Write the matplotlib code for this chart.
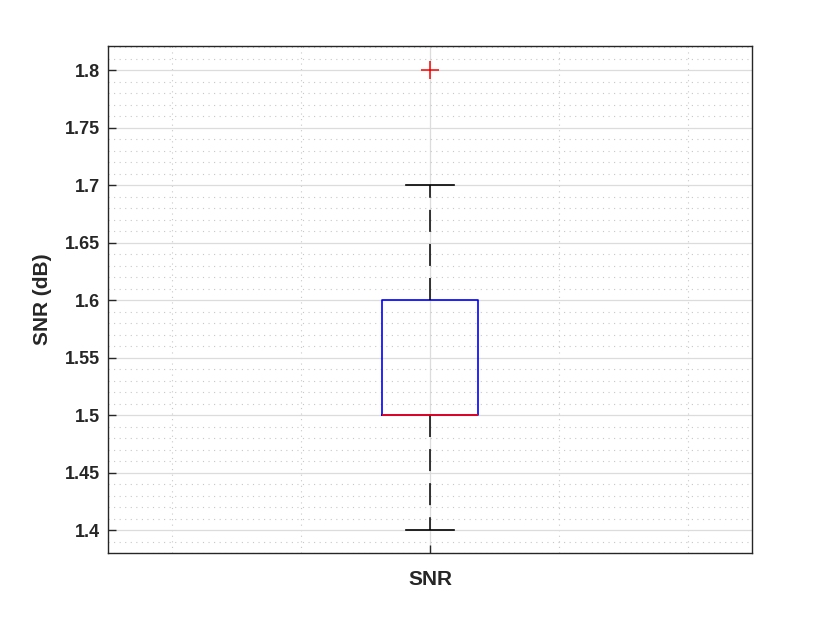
import numpy as np
import matplotlib.pyplot as plt
from matplotlib.ticker import MultipleLocator

plt.rcParams['font.family'] = ['Liberation Sans', 'DejaVu Sans']
plt.rcParams['font.weight'] = 'bold'

# box statistics
label = 'SNR'
q1, med, q3 = 1.5, 1.5, 1.6
whislo, whishi = 1.4, 1.7
outliers = [1.8]
yticks = [1.4, 1.45, 1.5, 1.55, 1.6, 1.65, 1.7, 1.75, 1.8]
ytick_labels = ['1.4', '1.45', '1.5', '1.55', '1.6', '1.65', '1.7', '1.75', '1.8']

fig = plt.figure(figsize=(8.3, 6.23), dpi=100)
ax = fig.add_axes([0.130, 0.112, 0.776, 0.814])

stats = [dict(label=label, q1=q1, med=med, q3=q3,
              whislo=whislo, whishi=whishi, fliers=outliers)]
ax.bxp(stats, positions=[1], widths=0.149, showfliers=True,
       boxprops=dict(color='#0000ff', lw=1.2),
       medianprops=dict(color='#ff0000', lw=1.2),
       whiskerprops=dict(color='black', lw=1.1, ls=(0, (14.4, 7.9))),
       capprops=dict(color='black', lw=1.2),
       capwidths=0.0745,
       flierprops=dict(marker='+', markeredgecolor='#ff0000', markersize=13,
                       markeredgewidth=1.1, ls='none'))

ax.set_xlim(0.5, 1.5)
ax.set_ylim(1.38, 1.8209)
ax.set_yticks(yticks)
ax.set_yticklabels(ytick_labels)
ax.set_xticks([1])
ax.set_xticklabels([label])
ax.yaxis.set_minor_locator(MultipleLocator(0.01))
ax.xaxis.set_minor_locator(MultipleLocator(0.2))

ax.grid(True, which='major', color='#dcdcdc', lw=0.9, ls='-')
ax.grid(True, which='minor', color='#c8c8c8', lw=0.8, ls=(0, (1, 4)))
ax.set_axisbelow(True)

ax.tick_params(which='major', direction='in', length=6, width=1.0,
               labelsize=13, colors='#262626', labelcolor='#262626',
               top=False, right=False)
ax.tick_params(axis='y', which='major', pad=6)
ax.tick_params(axis='x', which='major', labelsize=15, pad=12)
ax.tick_params(which='minor', length=0)
for lbl in ax.get_xticklabels() + ax.get_yticklabels():
    lbl.set_fontweight('bold')
for sp in ax.spines.values():
    sp.set_color('#262626')
    sp.set_linewidth(1.0)

ax.set_ylabel('SNR (dB)', fontsize=15, fontweight='bold', color='#262626',
              labelpad=9)

fig.savefig('out.png', dpi=100)
